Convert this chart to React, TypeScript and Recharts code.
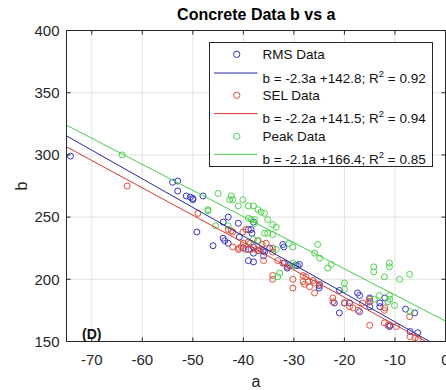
import { ScatterChart, Scatter, XAxis, YAxis, CartesianGrid, ReferenceLine, Legend } from 'recharts';

const FONT = '"Liberation Sans", Arial, sans-serif';
const AXIS_COLOR = '#262626';

const X_TICKS = [-70, -60, -50, -40, -30, -20, -10, 0];
const Y_TICKS = [150, 200, 250, 300, 350, 400];

const rmsA = [-74.2, -54, -53, -53, -51.3, -50.5, -50, -50, -48, -49.2, -46, -44, -43, -44, -43.7, -43, -41, -40.8, -39, -38.5, -38.3, -38, -39, -38, -40, -39, -38, -37, -38, -36.1, -35.8, -34.8, -36, -32.2, -32, -31.9, -30.9, -29.7, -29.3, -31.3, -28.9, -25, -25, -21, -22, -21, -20, -19, -17.4, -17, -17, -15, -15, -15, -13, -13, -12, -11.1, -11, -7.9, -6.1, -7, -5.5];
const rmsB = [299, 278, 279, 271, 267, 266, 264, 265, 267, 238, 227, 246, 250, 233, 231, 229, 245, 234, 240, 240, 237, 246, 215, 214, 225, 224, 226, 223, 221, 223, 222, 225, 219, 228, 226, 213, 211, 211, 211, 209, 212, 195, 193, 191, 181, 173, 181, 181, 189, 187, 174, 185, 182, 178, 181, 178, 185, 162, 163, 176, 173, 158, 157];

const selA = [-63, -49, -43, -42.4, -42.1, -40.1, -39.5, -42.1, -40.8, -40.4, -41, -39.5, -38.5, -37.5, -37, -36.5, -40, -39, -38.6, -37.2, -36.3, -35.5, -34.2, -34.2, -36, -33.2, -34.2, -34.2, -32.2, -31.2, -30.2, -30.2, -28.2, -27.6, -28.2, -27.2, -26.2, -25.9, -24.9, -27.9, -26.9, -25.9, -22.3, -22.3, -20, -19, -18.3, -17.3, -16.4, -15, -15, -15, -12.1, -12, -12.1, -11.4, -9.7, -7.1, -7, -6, -5.4];
const selB = [275, 253, 240, 239, 238, 238, 240, 226, 225, 226, 224, 224, 224, 224, 223, 224, 229, 230, 229, 231, 228, 229, 225, 222, 215, 215, 203, 200, 213, 210, 200, 193, 203, 202, 198, 198, 199, 197, 196, 196, 194, 189, 185, 182, 181, 178, 177, 175, 181, 184, 182, 163, 175, 177, 165, 163, 162, 170, 154, 153, 152];

const peakA = [-64, -47, -47, -45, -42.4, -42.1, -42.7, -40.1, -41, -39, -38, -37.1, -36.5, -35.8, -39, -38.4, -37.8, -37.8, -35.2, -34.2, -33.5, -35.8, -35.2, -34.2, -45.5, -43, -38, -37, -33.5, -33.2, -32.8, -30.2, -31, -30.2, -29.9, -25.3, -25.9, -24.9, -23.3, -22.6, -20, -20, -14.2, -14.2, -11.1, -11.1, -12.1, -9.1, -7.1, -13.1, -14.1, -11.1, -11, -11.4, -10.1, -7];
const peakB = [300, 256, 255, 269, 267, 264, 264, 264, 259, 259, 259, 256, 254, 253, 249, 248, 248, 245, 248, 244, 242, 237, 237, 236, 243, 243, 232, 231, 224, 202, 205, 226, 229, 213, 211, 228, 221, 217, 209, 212, 197, 192, 210, 206, 213, 210, 202, 200, 204, 187, 184, 187, 184, 182, 179, 174];

const seriesNames = ['RMS Data', 'SEL Data', 'Peak Data'];
const fitSlopes = [-2.3, -2.2, -2.1];
const fitIntercepts = [142.8, 141.5, 166.4];
const fitR2 = [0.92, 0.94, 0.85];

const pointColors = ['#3434c4', '#e0503c', '#4cd44c'];
const lineColors = ['#26269e', '#d63a2e', '#46d046'];

const zip = (a: number[], b: number[]) => a.map((v, i) => ({ a: v, b: b[i] }));
const seriesData = [zip(rmsA, rmsB), zip(selA, selB), zip(peakA, peakB)];

const X_MIN = -75;
const X_MAX = 0;
const Y_MIN = 150;
const Y_MAX = 400;

// end points of each fitted line inside the axes box
const fitData = (m: number, c: number) => {
  const xEnd = Math.min(X_MAX, (Y_MIN - c) / m);
  return [
    { a: X_MIN, b: m * X_MIN + c },
    { a: xEnd, b: m * xEnd + c },
  ];
};

const Ring = (color: string) => (props: any) => (
  <circle cx={props.cx} cy={props.cy} r={3} fill="none" stroke={color} strokeWidth={1} />
);
const NoMarker = () => <g />;

const BottomTick = (props: any) => {
  const { x, y, payload } = props;
  return (
    <g>
      <line x1={x} y1={y} x2={x} y2={y - 4} stroke={AXIS_COLOR} />
      <text x={x} y={y + 23} textAnchor="middle" fontSize={15} fill={AXIS_COLOR} fontFamily={FONT}>
        {payload.value}
      </text>
    </g>
  );
};

const TopTick = (props: any) => {
  const { x, y } = props;
  return <line x1={x} y1={y} x2={x} y2={y + 4} stroke={AXIS_COLOR} />;
};

const LeftTick = (props: any) => {
  const { x, y, payload } = props;
  return (
    <g>
      <line x1={x} y1={y} x2={x + 4} y2={y} stroke={AXIS_COLOR} />
      <text x={x - 7} y={y + 5.3} textAnchor="end" fontSize={15} fill={AXIS_COLOR} fontFamily={FONT}>
        {payload.value}
      </text>
    </g>
  );
};

const RightTick = (props: any) => {
  const { x, y } = props;
  return <line x1={x} y1={y} x2={x - 4} y2={y} stroke={AXIS_COLOR} />;
};

const markerRows = [12.3, 53.3, 94.3];
const lineRows = [31, 71.6, 112.3];

const LegendBox = () => (
  <svg width={224} height={125} style={{ display: 'block' }}>
    <rect x={0.5} y={0.5} width={223} height={124} fill="#fff" stroke={AXIS_COLOR} />
    {seriesNames.map((name, i) => (
      <g key={name} fontFamily={FONT} fontSize={13.5} fill="#111">
        <circle cx={27.7} cy={markerRows[i]} r={3.2} fill="none" stroke={pointColors[i]} />
        <text x={53.4} y={markerRows[i] + 4.8}>{name}</text>
        <line x1={5} y1={lineRows[i]} x2={48.5} y2={lineRows[i]} stroke={lineColors[i]} />
        <text x={53.4} y={lineRows[i] + 9.8}>
          {`b = ${fitSlopes[i]}a +${fitIntercepts[i].toFixed(1)}; R`}
          <tspan dy={-6} fontSize={9.5}>2</tspan>
          <tspan dy={6}>{` = ${fitR2[i].toFixed(2)}`}</tspan>
        </text>
      </g>
    ))}
  </svg>
);

export default function App() {
  return (
    <div style={{ position: 'absolute', left: 0, top: 0, width: 446, height: 390, overflow: 'hidden', background: '#fff' }}>
      <ScatterChart width={460} height={390} margin={{ top: 29.5, right: 13.5, bottom: 0.5, left: 0 }}>
        <CartesianGrid stroke="#e2e2e2" horizontalValues={Y_TICKS} verticalValues={X_TICKS} />
        <XAxis
          type="number"
          dataKey="a"
          domain={[X_MIN, X_MAX]}
          ticks={X_TICKS}
          allowDataOverflow
          height={48}
          tickSize={0}
          tickMargin={0}
          tick={BottomTick}
          stroke={AXIS_COLOR}
          label={{ value: 'a', position: 'insideBottom', offset: 3, fontSize: 16, fill: AXIS_COLOR, fontFamily: FONT }}
        />
        <XAxis
          xAxisId="top"
          orientation="top"
          type="number"
          dataKey="a"
          domain={[X_MIN, X_MAX]}
          ticks={X_TICKS}
          allowDataOverflow
          height={1}
          tickSize={0}
          tickMargin={0}
          tick={TopTick}
          stroke={AXIS_COLOR}
        />
        <YAxis
          type="number"
          dataKey="b"
          domain={[Y_MIN, Y_MAX]}
          ticks={Y_TICKS}
          allowDataOverflow
          width={66.5}
          tickSize={0}
          tickMargin={0}
          tick={LeftTick}
          stroke={AXIS_COLOR}
          label={({ viewBox }: any) => (
            <text
              x={viewBox.x + 27}
              y={viewBox.y + viewBox.height / 2}
              transform={`rotate(-90, ${viewBox.x + 27}, ${viewBox.y + viewBox.height / 2})`}
              textAnchor="middle"
              fontSize={16}
              fill={AXIS_COLOR}
              fontFamily={FONT}
            >
              b
            </text>
          )}
        />
        <YAxis
          yAxisId="right"
          orientation="right"
          type="number"
          dataKey="b"
          domain={[Y_MIN, Y_MAX]}
          ticks={Y_TICKS}
          allowDataOverflow
          width={1}
          tickSize={0}
          tickMargin={0}
          tick={RightTick}
          stroke={AXIS_COLOR}
        />
        {seriesData.map((data, i) => (
          <Scatter
            key={seriesNames[i]}
            name={seriesNames[i]}
            data={data}
            shape={Ring(pointColors[i])}
            isAnimationActive={false}
          />
        ))}
        {/* fitted lines, on the box axes (same domains) so those get their ticks */}
        {fitSlopes.map((m, i) => (
          <Scatter
            key={`fit-${i}`}
            xAxisId="top"
            yAxisId="right"
            data={fitData(m, fitIntercepts[i])}
            line={{ stroke: lineColors[i], strokeWidth: 1 }}
            lineType="joint"
            shape={NoMarker}
            legendType="none"
            isAnimationActive={false}
          />
        ))}
        {/* box edges */}
        <ReferenceLine y={Y_MAX} stroke={AXIS_COLOR} ifOverflow="visible" />
        <ReferenceLine x={X_MAX} stroke={AXIS_COLOR} ifOverflow="visible" />
        <Legend
          layout="vertical"
          align="center"
          verticalAlign="middle"
          content={LegendBox}
          wrapperStyle={{ left: 209, top: 42, width: 224, height: 125 }}
        />
      </ScatterChart>
      <div
        style={{
          position: 'absolute',
          left: 67,
          width: 378.5,
          top: 6,
          textAlign: 'center',
          fontFamily: FONT,
          fontSize: 16,
          lineHeight: '18px',
          fontWeight: 'bold',
          color: '#000',
        }}
      >
        Concrete Data b vs a
      </div>
      <div
        style={{
          position: 'absolute',
          left: 82,
          top: 326.5,
          fontFamily: FONT,
          fontSize: 14,
          lineHeight: '14px',
          fontWeight: 'bold',
          color: '#111',
        }}
      >
        (D)
      </div>
    </div>
  );
}
